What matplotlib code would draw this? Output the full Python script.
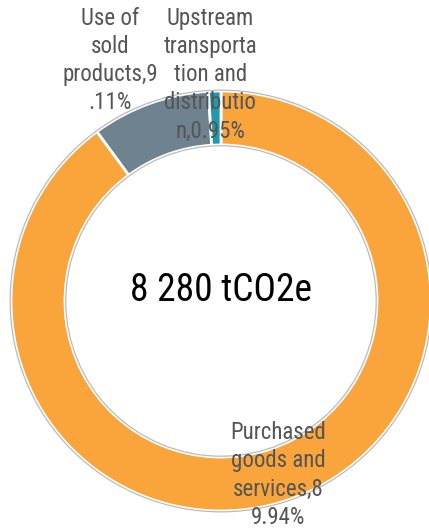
import matplotlib
matplotlib.use("Agg")
import matplotlib.pyplot as plt
from matplotlib.patches import Circle
import numpy as np

# ---- data ----
categories = ["Purchased goods and services", "Use of sold products",
              "Upstream transportation and distribution"]
shares = [89.94, 9.11, 0.95]
label_texts = ["Purchased\ngoods and\nservices,8\n9.94%",
               "Use of\nsold\nproducts,9\n.11%",
               "Upstream\ntransporta\ntion and\ndistributio\nn,0.95%"]
colors = ["#F9A53C", "#6F828F", "#1E9AAA"]
total_text = "8 280 tCO2e"

# ---- layout ----
W, H = 429, 530
fig = plt.figure(figsize=(W / 100, H / 100), dpi=100)
ax = fig.add_axes([0, 0, 1, 1])
R_px = 210.0
cx, cy = 221.0, 301.0  # pixel centre (from top-left)

inner = 0.743
wedges, _ = ax.pie(shares, colors=colors, startangle=90, counterclock=False,
                   radius=1.0, wedgeprops=dict(width=1 - inner, edgecolor="white",
                                               linewidth=2.0))
ax.set_xlim(-cx / R_px, (W - cx) / R_px)
ax.set_ylim(-(H - cy) / R_px, cy / R_px)
ax.set_aspect("equal")
ax.axis("off")

# thin grey outlines of the ring
for r in (1.004, inner - 0.004):
    ax.add_patch(Circle((0, 0), r, fill=False, edgecolor="#BBBBBB", linewidth=0.9))

# ---- labels ----
font = "Roboto Condensed"
mid_r = (1 + inner) / 2
label_pos = []
for w in wedges:
    ang = np.deg2rad((w.theta1 + w.theta2) / 2)
    label_pos.append([mid_r * np.cos(ang), mid_r * np.sin(ang)])
# small top wedges: labels pushed up above the ring
label_pos[1] = [-0.529, 1.145]
label_pos[2] = [-0.052, 1.078]
for (x, y), t in zip(label_pos, label_texts):
    ax.text(x, y, t, ha="center", va="center", multialignment="center",
            fontsize=16.5, family=font, color="#555555", linespacing=1.29)

ax.text(0, 0.048, total_text, ha="center", va="center", fontsize=27,
        family=font, color="black")

fig.savefig("out.png", dpi=100)
